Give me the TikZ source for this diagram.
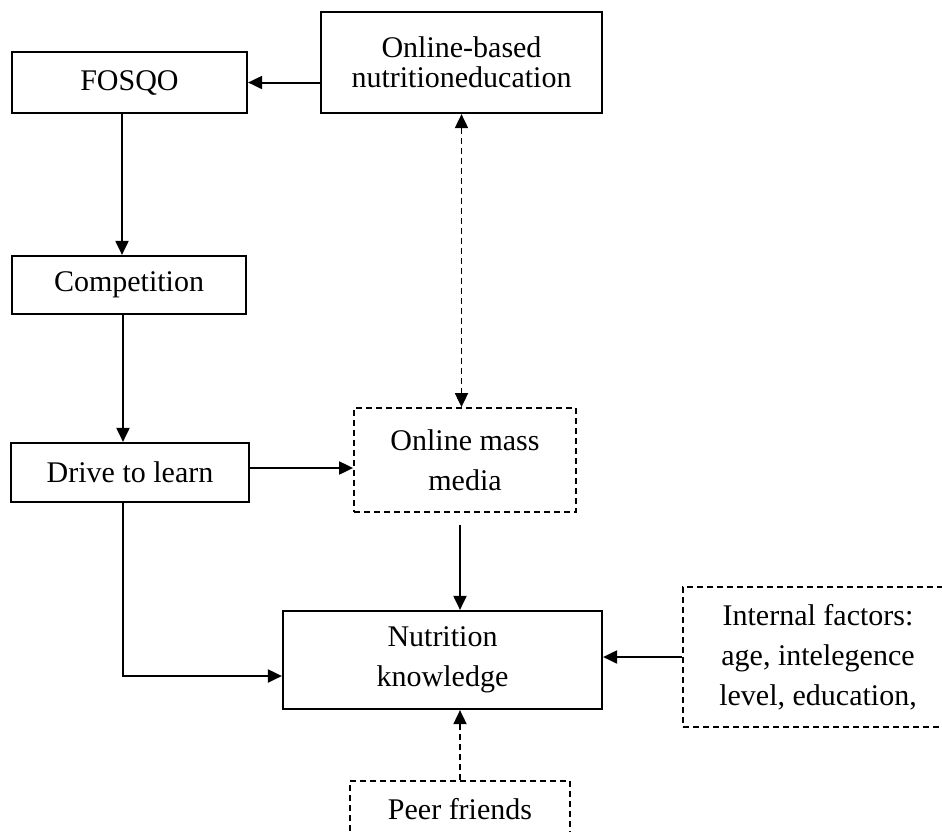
\documentclass[tikz,border=0pt]{standalone}
\usepackage{fontspec}
\setmainfont{Liberation Serif}
\usetikzlibrary{arrows.meta}
\tikzset{
    box/.style={
        rectangle,
        draw=black,
        line width=2.2pt,
        fill=white,
        align=center,
        inner sep=0pt,
        font=\fontsize{30}{40}\selectfont
    },
    tightbox/.style={
        box,
        font=\fontsize{30}{30}\selectfont
    },
    dashbox/.style={
        box,
        line width=1.8pt,
        dash pattern=on 6pt off 4pt
    },
    flow/.style={
        -{Triangle[length=14pt,width=13pt]},
        draw=black,
        line width=2pt
    },
    dashflow/.style={
        {Triangle[length=14pt,width=13pt]}-{Triangle[length=14pt,width=13pt]},
        draw=black,
        line width=1.8pt,
        dash pattern=on 6pt off 4pt
    },
    dashflowup/.style={
        flow,
        line width=1.8pt,
        dash pattern=on 6pt off 4pt
    }
}

\begin{document}
\begin{tikzpicture}[x=1pt, y=-1pt]

\useasboundingbox (0,0) rectangle (942,831);
\clip (0,0) rectangle (942,831);

% boxes
\node[box, minimum width=235pt, minimum height=61pt] (fosqo) at (129.5,82.5) {FOSQO};
\node[tightbox, minimum width=281pt, minimum height=101pt] (online) at (461.5,62.5) {Online-based\\nutritioneducation};
\node[box, minimum width=234pt, minimum height=58pt] (comp) at (129,285) {Competition};
\node[box, minimum width=238pt, minimum height=59pt] (drive) at (130,472.5) {Drive to learn};
\node[dashbox, minimum width=222pt, minimum height=104pt] (media) at (465,460) {Online mass\\media};
\node[box, minimum width=319pt, minimum height=98pt] (know) at (442.5,660) {Nutrition\\knowledge};
\node[dashbox, minimum width=270pt, minimum height=140pt] (internal) at (818,657) {Internal factors:\\age, intelegence\\level, education,};
\node[dashbox, minimum width=220pt, minimum height=56pt] (peer) at (460,809) {Peer friends};

% helper points
\coordinate (fosqoout) at ([xshift=-7.5pt]fosqo.south);
\coordinate (compout) at ([xshift=-6pt]comp.south);
\coordinate (driveout) at ([yshift=4.5pt]drive.east);
\coordinate (drivedown) at ([xshift=-7pt]drive.south);
\coordinate (mediaout) at ([xshift=-5pt]media.south);
\coordinate (knowin) at ([yshift=-16pt]know.west);

% connectors
\draw[flow] (online.west |- fosqo.east) -- (fosqo.east);
\draw[flow] (fosqoout) -- (fosqoout |- comp.north);
\draw[flow] (compout) -- (compout |- drive.north);
\draw[flow] (driveout) -- (driveout -| media.west);
\draw[dashflow] (online.south) -- (online.south |- media.north);
\draw[flow, shorten <=12pt] (mediaout) -- (mediaout |- know.north);
\draw[flow] (drivedown) |- (knowin);
\draw[flow] (internal.west) -- (know.east |- internal.west);
\draw[dashflowup] (peer.north) -- (peer.north |- know.south);

\end{tikzpicture}
\end{document}
